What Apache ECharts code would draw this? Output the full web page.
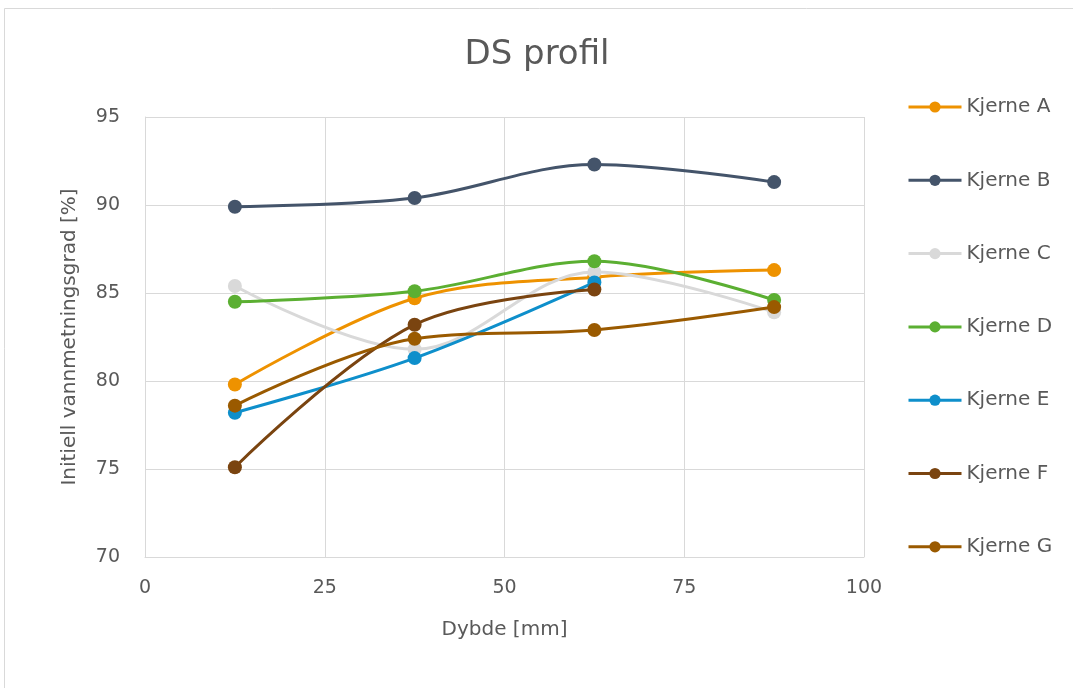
<!DOCTYPE html>
<html>
<head>
<meta charset="utf-8">
<script src="https://cdn.jsdelivr.net/npm/echarts@6/dist/echarts.min.js"></script>
<style>
  html, body { margin: 0; padding: 0; background: #fff; }
  #chart { width: 1073px; height: 688px; }
</style>
</head>
<body>
<div id="chart"></div>
<script>
// dybde (mm)
const depths = [12.5, 37.5, 62.5, 87.5];
const names = ['Kjerne A', 'Kjerne B', 'Kjerne C', 'Kjerne D', 'Kjerne E', 'Kjerne F', 'Kjerne G'];
const colors = ['#EE9200', '#44546A', '#D9D9D9', '#5BAF32', '#0E8FCB', '#7A4410', '#9A5A00'];

const kjerneA = [79.8, 84.7, 85.9, 86.3];
const kjerneB = [89.9, 90.4, 92.3, 91.3];
const kjerneC = [85.4, 81.8, 86.2, 83.9];
const kjerneD = [84.5, 85.1, 86.8, 84.6];
const kjerneE = [78.2, 81.3, 85.6];
const kjerneF = [75.1, 83.2, 85.2];
const kjerneG = [78.6, 82.4, 82.9, 84.2];

const values = [kjerneA, kjerneB, kjerneC, kjerneD, kjerneE, kjerneF, kjerneG];
const textColor = '#595959';
const font = '"DejaVu Sans", "Open Sans", sans-serif';

const chart = echarts.init(document.getElementById('chart'));

const series = names.map((name, i) => ({
  name: name,
  type: 'line',
  smooth: 0.35,
  symbol: 'circle',
  symbolSize: 14,
  lineStyle: { width: 3, color: colors[i] },
  itemStyle: { color: colors[i] },
  data: values[i].map((v, j) => [depths[j], v])
}));

chart.setOption({
  animation: false,
  textStyle: { fontFamily: font },
  graphic: [{
    type: 'rect',
    shape: { x: 4.5, y: 8.5, width: 1200, height: 800 },
    style: { fill: 'none', stroke: '#D9D9D9', lineWidth: 1 },
    silent: true
  }],
  title: {
    text: 'DS profil',
    left: 532,
    textAlign: 'center',
    top: 33,
    textStyle: { color: textColor, fontSize: 34, fontWeight: 'normal', fontFamily: font }
  },
  legend: {
    orient: 'vertical',
    left: 907,
    top: 97,
    padding: 0,
    itemWidth: 53,
    itemHeight: 14,
    itemGap: 53.3,
    lineStyle: { width: 3 },
    textStyle: { color: textColor, fontSize: 20, fontFamily: font },
    data: names
  },
  grid: { left: 145, right: 209, top: 117, bottom: 131, containLabel: false },
  xAxis: {
    type: 'value',
    min: 0, max: 100, interval: 25,
    name: 'Dybde [mm]',
    nameLocation: 'middle',
    nameGap: 63,
    nameTextStyle: { color: textColor, fontSize: 20 },
    axisLine: { show: true, lineStyle: { color: '#D9D9D9', width: 1 } },
    axisTick: { show: false },
    axisLabel: { color: textColor, fontSize: 19, margin: 22 },
    splitLine: { show: true, lineStyle: { color: '#D9D9D9', width: 1 } }
  },
  yAxis: {
    type: 'value',
    min: 70, max: 95, interval: 5,
    name: 'Initiell vannmetningsgrad [%]',
    nameLocation: 'middle',
    nameGap: 65,
    nameTextStyle: { color: textColor, fontSize: 20 },
    axisLine: { show: true, lineStyle: { color: '#D9D9D9', width: 1 } },
    axisTick: { show: false },
    axisLabel: { color: textColor, fontSize: 19, margin: 25 },
    splitLine: { show: true, lineStyle: { color: '#D9D9D9', width: 1 } }
  },
  series: series
});
</script>
</body>
</html>
